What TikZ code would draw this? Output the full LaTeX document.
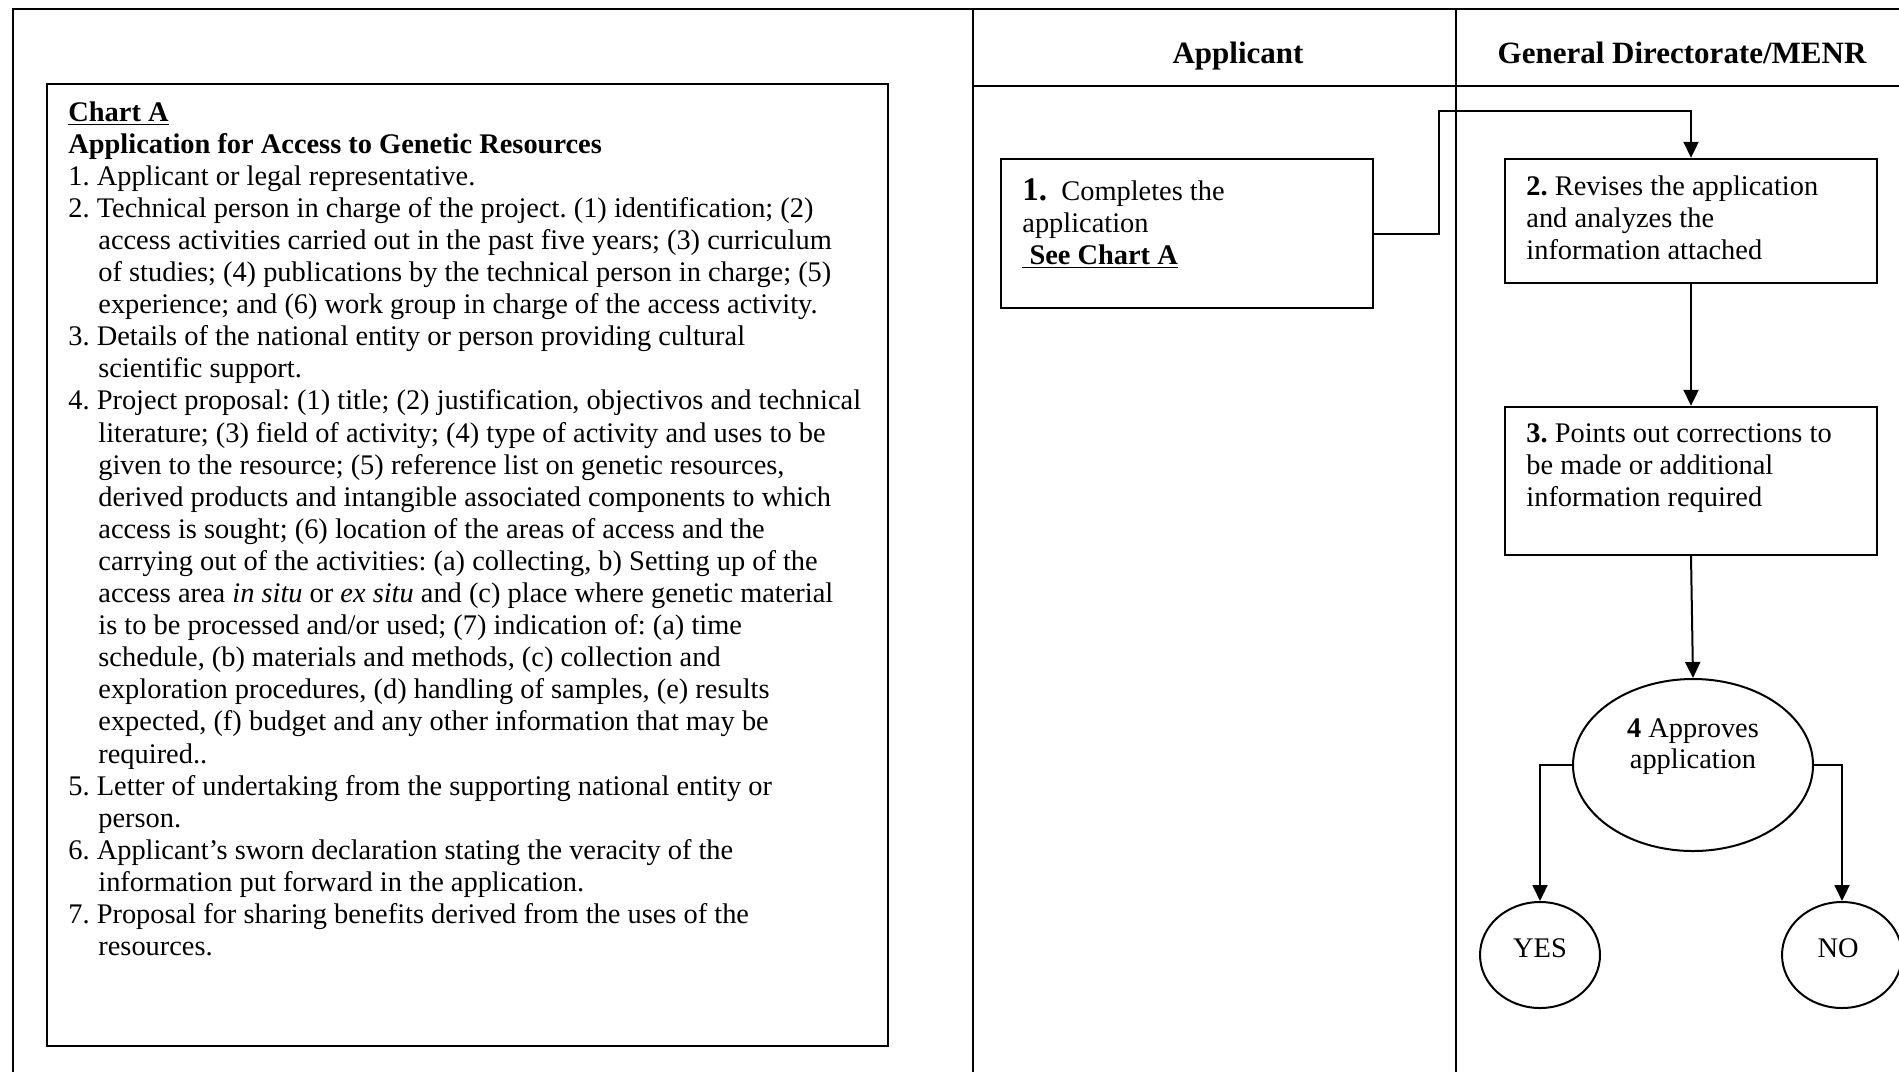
\documentclass[tikz,border=0pt]{standalone}
\usepackage{fontspec}
\setmainfont{Liberation Serif}
\usetikzlibrary{shapes.geometric,arrows.meta}
\frenchspacing
\newcommand\bodyfont{\fontsize{14.2}{16.05}\selectfont\frenchspacing}
\newcommand\chartrow[1]{\hbox{#1}}
\newcommand\chartcont[1]{\hbox{\hspace*{15pt}#1}}
\tikzset{
  frame/.style={line width=1pt},
  procbox/.style={draw, line width=1.2pt, rectangle, inner sep=0pt},
  decision/.style={draw, line width=1pt, ellipse, inner sep=0pt},
  txt/.style={inner sep=0pt, font=\bodyfont},
  hdr/.style={inner sep=0pt, font=\fontsize{15.5}{18}\selectfont\bfseries},
  flow/.style={line width=1pt, -{Triangle[length=8pt,width=7.5pt]}},
}
\begin{document}
\begin{tikzpicture}[x=0.5pt,y=-0.5pt]
\useasboundingbox (0,0) rectangle (1899,1072);
% swimlane frame
\draw[frame] (13,1072) -- (13,9) -- (1899,9);
\draw[frame] (973,9) -- (973,1072);
\draw[frame] (1456,9) -- (1456,1072);
\draw[frame] (973,86) -- (1899,86);
\node[hdr, anchor=base] (hApp) at (1238,63) {Applicant};
\node[hdr, anchor=base] (hDir) at (1682,63) {General Directorate/MENR};
% Chart A
\node[procbox, minimum width=420.5pt, minimum height=481pt] (chartbox) at (467.5,565) {};
\node[txt, anchor=base west] (chart) at (68,121) {\vtop{\bodyfont
\chartrow{\underline{\textbf{Chart A}}}
\chartrow{\textbf{Application for Access to Genetic Resources}}
\chartrow{1. Applicant or legal representative.}
\chartrow{2. Technical person in charge of the project. (1) identification; (2)}
\chartcont{access activities carried out in the past five years; (3) curriculum}
\chartcont{of studies; (4) publications by the technical person in charge; (5)}
\chartcont{experience; and (6) work group in charge of the access activity.}
\chartrow{3. Details of the national entity or person providing cultural}
\chartcont{scientific support.}
\chartrow{4. Project proposal: (1) title; (2) justification, objectivos and technical}
\chartcont{literature; (3) field of activity; (4) type of activity and uses to be}
\chartcont{given to the resource; (5) reference list on genetic resources,}
\chartcont{derived products and intangible associated components to which}
\chartcont{access is sought; (6) location of the areas of access and the}
\chartcont{carrying out of the activities: (a) collecting, b) Setting up of the}
\chartcont{access area \textit{in situ} or \textit{ex situ} and (c) place where genetic material}
\chartcont{is to be processed and/or used; (7) indication of: (a) time}
\chartcont{schedule, (b) materials and methods, (c) collection and}
\chartcont{exploration procedures, (d) handling of samples, (e) results}
\chartcont{expected, (f) budget and any other information that may be}
\chartcont{required..}
\chartrow{5. Letter of undertaking from the supporting national entity or}
\chartcont{person.}
\chartrow{6. Applicant’s sworn declaration stating the veracity of the}
\chartcont{information put forward in the application.}
\chartrow{7. Proposal for sharing benefits derived from the uses of the}
\chartcont{resources.}
}};
% process boxes
\node[procbox, minimum width=186pt, minimum height=74.5pt] (b1) at (1187,233.5) {};
\node[txt, anchor=base west] (t1) at (1022,200) {\vtop{\bodyfont
\hbox{{\fontsize{16.5}{16}\selectfont\textbf{1.}}\ \ Completes the}
\hbox{application}
\hbox{\underline{\textbf{\ See Chart A}}}}};
\node[procbox, minimum width=186pt, minimum height=62pt] (b2) at (1691,221) {};
\node[txt, anchor=base west] (t2) at (1526,195) {\vtop{\bodyfont
\hbox{\textbf{2.} Revises the application}
\hbox{and analyzes the}
\hbox{information attached}}};
\node[procbox, minimum width=186pt, minimum height=74pt] (b3) at (1691,481) {};
\node[txt, anchor=base west] (t3) at (1526,442) {\vtop{\bodyfont
\hbox{\textbf{3.} Points out corrections to}
\hbox{be made or additional}
\hbox{information required}}};
% decision
\node[decision, minimum width=120pt, minimum height=86pt] (d4) at (1693,765) {};
\node[txt, anchor=base] (t4) at (1693,737) {\textbf{4} Approves};
\node[txt, anchor=base] (t4b) at (1693,768) {application};
\node[decision, minimum width=60pt, minimum height=53pt] (yes) at (1540,955) {};
\node[txt] (tyes) at (1540,948) {YES};
\node[decision, minimum width=60pt, minimum height=53pt] (no) at (1842,955) {};
\node[txt] (tno) at (1838,948) {NO};
% connectors
\coordinate (c1a) at (1439,233.5);
\coordinate (c1b) at (1439,111);
\coordinate (c1c) at (1691,111);
\draw[flow] (b1.east) -- (c1a) -- (c1b) -- (c1c) -- (b2.north);
\draw[flow] (b2.south) -- (b3.north);
\draw[flow] (b3.south) -- (d4.north);
\draw[flow] (d4.west) -| (yes.north);
\draw[flow] (d4.east) -| (no.north);
\end{tikzpicture}
\end{document}
